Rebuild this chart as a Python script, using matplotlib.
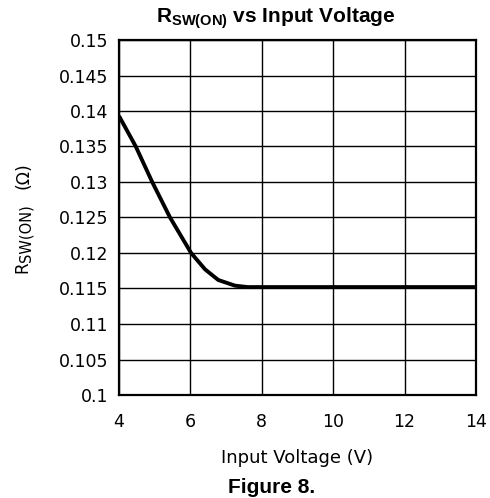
import matplotlib
matplotlib.use("Agg")
import matplotlib.pyplot as plt

# R_SW(ON) vs input voltage
vin = [4.0, 4.47, 4.93, 5.43, 6.02, 6.41, 6.78, 7.25, 7.6, 8.0, 10.0, 12.0, 14.0]
rsw = [0.1393, 0.135, 0.130, 0.125, 0.120, 0.1177, 0.1162, 0.1154, 0.1152,
       0.1152, 0.1152, 0.1152, 0.1152]

xticks = [4, 6, 8, 10, 12, 14]
yticks = [0.1, 0.105, 0.11, 0.115, 0.12, 0.125, 0.13, 0.135, 0.14, 0.145, 0.15]
ytick_labels = ["0.1", "0.105", "0.11", "0.115", "0.12", "0.125",
                "0.13", "0.135", "0.14", "0.145", "0.15"]

plt.rcParams['font.family'] = 'DejaVu Sans'
plt.rcParams['mathtext.fontset'] = 'custom'
plt.rcParams['mathtext.rm'] = 'DejaVu Sans'
plt.rcParams['mathtext.bf'] = 'Liberation Sans:bold'

W, H = 490, 498
fig = plt.figure(figsize=(4.9, 4.98), dpi=100)
ax = fig.add_axes([119/W, 1 - 395/H, (476 - 119)/W, (395 - 40)/H])

ax.plot(vin, rsw, color='black', lw=2.8, solid_joinstyle='round',
        solid_capstyle='butt', zorder=3)

ax.set_xlim(4, 14)
ax.set_ylim(0.1, 0.15)
ax.set_xticks(xticks)
ax.set_yticks(yticks)
ax.set_yticklabels(ytick_labels)
ax.grid(True, color='black', lw=1.0)
ax.tick_params(length=0, labelsize=12.5)
ax.tick_params(axis='x', pad=13)
ax.tick_params(axis='y', pad=8)
for s in ax.spines.values():
    s.set_linewidth(1.6)

# y label: R with a near full-size subscript, then the unit
fig.text(22/W, 1 - 267/H, "R", rotation=90, ha='center', va='center', fontsize=12)
fig.text(26/W, 1 - 233/H, "SW(ON)", rotation=90, ha='center', va='center', fontsize=10.5)
fig.text(23/W, 1 - 176/H, "(Ω)", rotation=90, ha='center', va='center', fontsize=12.5)

fig.text(297/W, 1 - 458/H, "Input Voltage (V)", ha='center', va='center', fontsize=13)

fig.text(276/W, 1 - 18/H, r"R$_{\mathbf{SW(ON)}}$ vs Input Voltage", ha='center', va='center',
         fontsize=15, fontweight='bold', family='Liberation Sans')
fig.text(272/W, 1 - 487/H, "Figure 8.", ha='center', va='center',
         fontsize=15, fontweight='bold', family='Liberation Sans')

fig.savefig("out.png", dpi=100)
